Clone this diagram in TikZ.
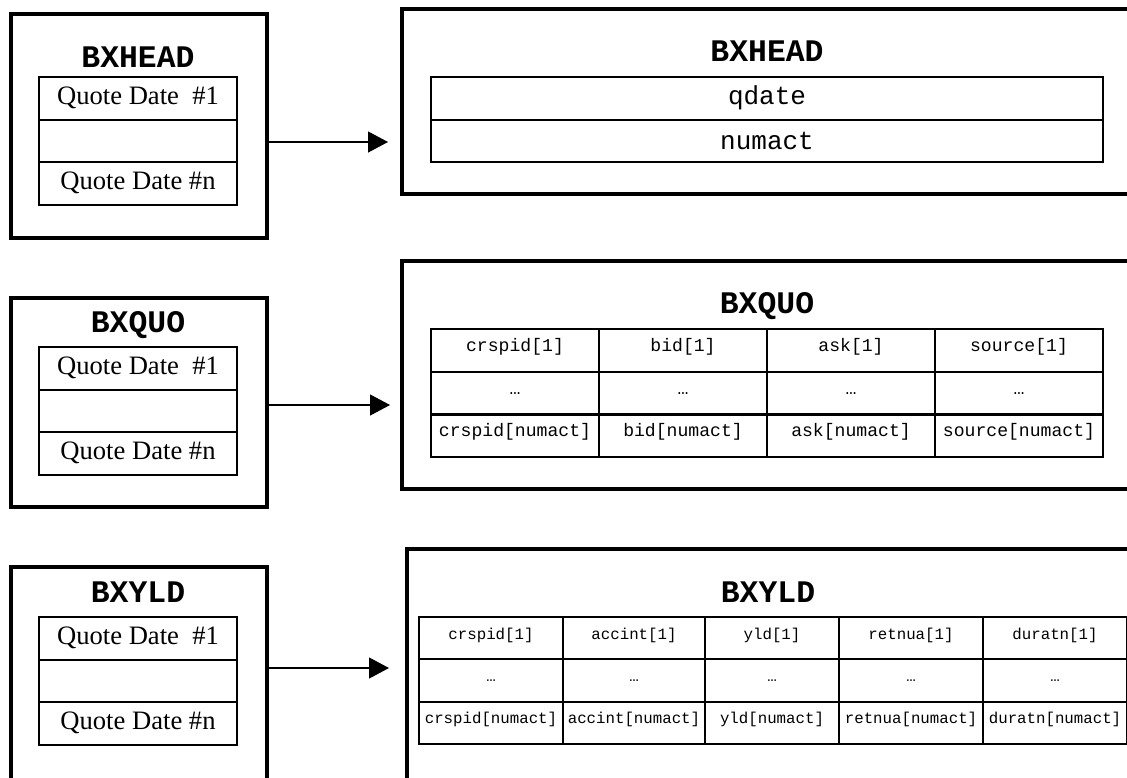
\documentclass[tikz,border=0pt]{standalone}
\usepackage{fontspec}
\setmainfont{Liberation Serif}
\setmonofont{Liberation Mono}
\usepackage{tikz}
\usetikzlibrary{arrows.meta,
                calc,
                positioning}

\begin{document}
\begin{tikzpicture}[x=1pt, y=-1pt,
  frame/.style={draw, line width=4pt, inner sep=0pt},
  cell/.style={draw, line width=2pt, inner sep=0pt, minimum height=42.5pt},
  shifted/.style={text height=0.75em, text depth=0.55em},
  title/.style={anchor=base, font=\fontsize{31.4}{34}\selectfont\ttfamily\bfseries},
  flow/.style={-{Triangle[length=20pt, width=21pt]}, line width=1.2pt}]
\useasboundingbox (0,0) rectangle (1127,777);

% outer frames
\node[frame, minimum width=256pt, minimum height=224pt] (lhead) at (139,126) {};
\node[frame, minimum width=256pt, minimum height=209pt] (lquo)  at (139,402.5) {};
\node[frame, minimum width=256pt, minimum height=224pt] (lyld)  at (139,679) {};
\node[frame, minimum width=738pt, minimum height=185pt] (rhead) at (771,101.5) {};
\node[frame, minimum width=738pt, minimum height=228pt] (rquo)  at (771,375) {};
\node[frame, minimum width=733pt, minimum height=241pt] (ryld)  at (773.5,669.5) {};

% left side: quote date lists
\foreach \n/\t/\b in {head/77/67, quo/347/332, yld/617/602}
{
  \node[title] (l\n-title) at (138,\b) {BX\MakeUppercase{\n}};
  \node[cell, minimum width=198pt, font=\fontsize{26.6}{30}\selectfont]
    (l\n-1) at (138,{\t+21.25}) {Quote Date\ \ \#1};
  \node[cell, minimum width=198pt] (l\n-2) at (138,{\t+63.75}) {};
  \node[cell, minimum width=198pt, font=\fontsize{26.6}{30}\selectfont]
    (l\n-3) at (138,{\t+106.25}) {Quote Date \#n};
}

% right side: BXHEAD
\node[title] (rhead-title) at (767,61) {BXHEAD};
\foreach \f [count=\i] in {qdate, numact}
  \node[cell, minimum width=672pt, font=\fontsize{26}{29}\selectfont\ttfamily]
    (rhead-\i) at (767,{77+42.5*(\i-0.5)}) {\f};

% right side: BXQUO
\node[title] (rquo-title) at (767,313) {BXQUO};
\foreach \f [count=\i] in {crspid, bid, ask, source}
{
  \node[cell, shifted, minimum width=168pt, font=\fontsize{18.1}{20}\selectfont\ttfamily]
    (rquo-1-\i) at ({431+168*(\i-0.5)},350.35) {\f[1]};
  \node[cell, shifted, minimum width=168pt, font=\fontsize{18.1}{20}\selectfont\ttfamily]
    (rquo-2-\i) at ({431+168*(\i-0.5)},393.05) {…};
  \node[cell, shifted, minimum width=168pt, font=\fontsize{18.1}{20}\selectfont\ttfamily]
    (rquo-3-\i) at ({431+168*(\i-0.5)},435.75) {\f[numact]};
}

% right side: BXYLD
\node[title] (ryld-title) at (768,602) {BXYLD};
\foreach \f/\x/\w [count=\i] in {crspid/491/144, accint/634/142, yld/772/134,
                                 retnua/911/144, duratn/1055/144}
{
  \node[cell, shifted, minimum width=\w pt, minimum height=42.3pt,
        font=\fontsize{15.75}{18}\selectfont\ttfamily]
    (ryld-1-\i) at (\x,638.15) {\f[1]};
  \node[cell, shifted, minimum width=\w pt, minimum height=42.3pt,
        font=\fontsize{15.75}{18}\selectfont\ttfamily]
    (ryld-2-\i) at (\x,680.45) {…};
  \node[cell, shifted, minimum width=\w pt, minimum height=42.3pt,
        font=\fontsize{15.75}{18}\selectfont\ttfamily]
    (ryld-3-\i) at (\x,722.75) {\f[numact]};
}

% arrows
\foreach \a/\b/\y/\s in {lhead/rhead/142/12, lquo/rquo/405/10, lyld/ryld/668/16}
  \draw[flow, shorten >=\s pt] (\a.east |- 0,\y) -- (\b.west |- 0,\y);
\end{tikzpicture}
\end{document}
